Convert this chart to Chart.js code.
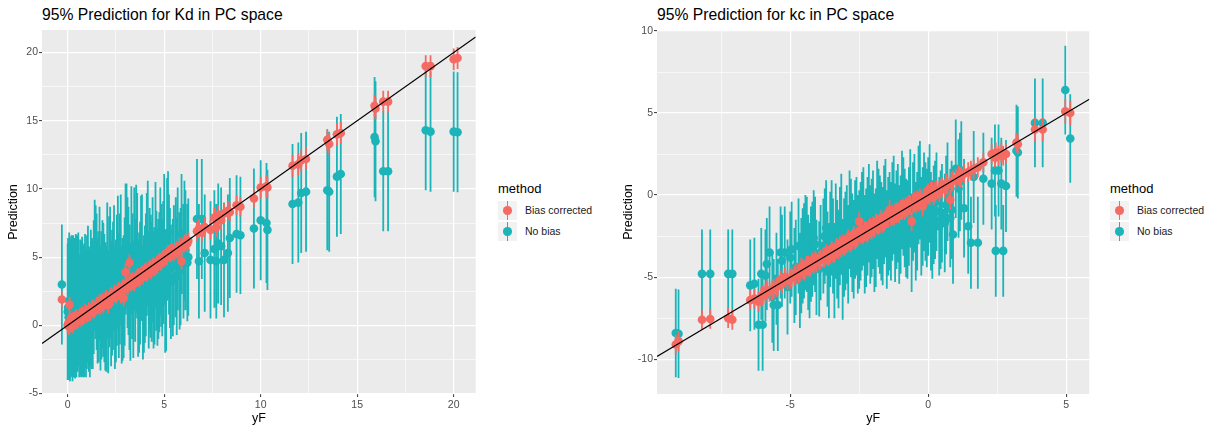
<!DOCTYPE html>
<html>
<head>
<meta charset="utf-8">
<script src="https://cdn.jsdelivr.net/npm/chart.js@4.4.1/dist/chart.umd.min.js"></script>
<style>
  body { margin: 0; width: 1209px; height: 428px; position: relative; background: #fff; overflow: hidden;
         font-family: "Liberation Sans", Arial, sans-serif; }
  canvas { position: absolute; top: 0; }
  .plot-title { position: absolute; top: 6px; font-size: 15.7px; line-height: 18px; color: #000; white-space: nowrap; }
  .legend { position: absolute; top: 181px; width: 110px; }
  .legend-title { font-size: 13px; line-height: 16px; color: #000; margin-left: 1px; }
  .legend-row { position: relative; height: 21px; }
  .legend-key { position: absolute; left: 1px; top: 4px; width: 19px; height: 18.5px; background: #F2F2F2; }
  .legend-key .bar { position: absolute; left: 8.6px; top: 0; width: 1.8px; height: 100%; }
  .legend-key .dot { position: absolute; left: 5.3px; top: 5px; width: 8.5px; height: 8.5px; border-radius: 50%; }
  .legend-label { position: absolute; left: 28px; top: 6px; font-size: 10.5px; line-height: 14px; color: #1a1a1a; white-space: nowrap; }
</style>
</head>
<body>
<div class="plot-title" style="left:42px">95% Prediction for Kd in PC space</div>
<div class="plot-title" style="left:657px">95% Prediction for kc in PC space</div>
<canvas id="kdChart" width="480" height="428" style="left:0px"></canvas>
<canvas id="kcChart" width="480" height="428" style="left:615px"></canvas>
<div class="legend" id="kdLegend" style="left:497px"></div>
<div class="legend" id="kcLegend" style="left:1109px"></div>

<script>
// ---- Kd panel data (yF, prediction, half-width of the 95% interval) ----
const kdYF = [
  -0.3, 0.0, 0.05, 0.1, 0.15, 0.2, 0.3, 0.35, 0.45, 0.5,
  0.6, 0.7, 0.75, 0.85, 0.95, 1.0, 1.1, 1.2, 1.3, 1.4,
  1.5, 1.55, 1.65, 1.75, 1.85, 1.95, 2.05, 2.1, 2.2, 2.3,
  2.4, 2.5, 2.6, 2.7, 2.8, 2.9, 3.0, 3.1, 3.2, 3.3,
  3.4, 3.5, 3.6, 3.7, 3.8, 3.9, 4.0, 4.1, 4.2, 4.3,
  4.4, 4.5, 4.6, 4.7, 4.8, 4.9, 5.0, 5.05, 5.1, 5.2,
  5.3, 5.45, 5.6, 5.8, 5.9, 6.0, 6.1, 6.2, 6.7, 6.8,
  6.95, 7.1, 7.4, 7.6, 7.7, 7.8, 7.95, 8.1, 8.3, 8.4,
  8.75, 8.95, 9.65, 10.0, 10.3, 10.35, 11.65, 11.95, 12.1, 12.35,
  13.45, 13.55, 13.95, 14.15, 15.9, 15.95, 16.35, 16.6, 18.55, 18.8,
  20.0, 20.2,
  0.02, 0.08, 0.12, 0.18, 0.25, 0.28, 0.38, 0.42, 0.55, 0.65,
  0.8, 0.9, 1.05, 1.15, 1.25, 1.35, 1.45, 1.6, 1.7, 1.8,
  1.9, 2.0, 2.15, 2.25, 2.35, 2.45, 2.55, 2.65, 2.75, 2.85,
  2.95, 3.05, 3.15, 3.25, 3.35, 3.45, 3.55, 3.65, 3.75, 3.85,
  3.95, 4.05, 4.15, 4.25, 4.35, 4.45, 4.55, 4.65, 4.75, 4.85,
  4.95, 5.15, 5.25, 5.35, 5.5, 5.65, 5.7, 5.85, 6.05, 6.25
];
const kdBiasPred = [
  1.9, 0.0, 0.2, 1.5, 0.1, 0.3, 0.2, 0.4, 0.5, 0.3,
  0.6, 0.5, 0.8, 0.7, 0.9, 0.8, 1.1, 1.0, 1.3, 1.2,
  1.5, 1.4, 1.7, 1.6, 1.5, 1.9, 1.8, 1.5, 2.1, 2.0,
  2.3, 2.2, 2.5, 2.4, 2.6, 2.0, 3.9, 2.8, 4.6, 3.1,
  3.2, 3.3, 3.5, 3.4, 3.7, 3.6, 3.9, 3.8, 4.1, 4.0,
  4.3, 4.2, 4.5, 4.6, 4.7, 4.8, 4.9, 5.0, 5.1, 5.3,
  5.2, 5.4, 5.5, 5.6, 4.7, 5.9, 6.1, 6.0, 6.9, 7.1,
  6.8, 7.2, 7.0, 7.9, 7.2, 8.1, 7.7, 8.2, 8.4, 8.3,
  8.8, 8.7, 9.3, 10.1, 10.2, 10.1, 11.7, 11.8, 12.1, 12.2,
  13.6, 13.3, 14.0, 14.1, 16.1, 15.9, 16.4, 16.4, 19.0, 19.0,
  19.5, 19.6,
  0.1, -0.1, 0.3, 0.2, 0.0, 0.4, 0.3, 0.6, 0.4, 0.7,
  0.6, 1.0, 0.9, 0.9, 1.2, 1.1, 1.3, 1.5, 1.4, 1.8,
  1.7, 2.0, 1.9, 2.2, 2.1, 2.4, 2.3, 2.6, 2.2, 2.8,
  2.7, 3.0, 3.0, 3.2, 3.3, 3.1, 3.4, 3.6, 3.5, 3.8,
  3.8, 4.0, 3.9, 4.2, 4.1, 4.4, 4.3, 4.4, 4.7, 4.6,
  4.9, 5.0, 5.3, 5.4, 5.3, 5.6, 5.5, 5.8, 6.0, 6.2
];
const kdBiasHalf = [
  0.6, 0.6, 0.6, 0.6, 0.6, 0.6, 0.6, 0.6, 0.6, 0.6,
  0.6, 0.6, 0.6, 0.6, 0.6, 0.6, 0.6, 0.6, 0.6, 0.6,
  0.6, 0.6, 0.6, 0.6, 0.6, 0.6, 0.6, 0.6, 0.6, 0.6,
  0.6, 0.6, 0.6, 0.6, 0.6, 0.6, 0.6, 0.6, 0.6, 0.6,
  0.6, 0.6, 0.6, 0.6, 0.6, 0.6, 0.6, 0.6, 0.6, 0.6,
  0.6, 0.6, 0.6, 0.6, 0.6, 0.6, 0.6, 0.6, 0.6, 0.6,
  0.6, 0.6, 0.6, 0.6, 0.6, 0.6, 0.6, 0.6, 0.7, 0.7,
  0.7, 0.7, 0.7, 0.7, 0.7, 0.7, 0.7, 0.7, 0.7, 0.7,
  0.7, 0.7, 0.7, 0.8, 0.8, 0.8, 0.8, 0.8, 0.8, 0.8,
  0.8, 0.8, 0.8, 0.8, 0.8, 0.8, 0.8, 0.8, 0.8, 0.8,
  0.8, 0.8,
  0.6, 0.6, 0.6, 0.6, 0.6, 0.6, 0.6, 0.6, 0.6, 0.6,
  0.6, 0.6, 0.6, 0.6, 0.6, 0.6, 0.6, 0.6, 0.6, 0.6,
  0.6, 0.6, 0.6, 0.6, 0.6, 0.6, 0.6, 0.6, 0.6, 0.6,
  0.6, 0.6, 0.6, 0.6, 0.6, 0.6, 0.6, 0.6, 0.6, 0.6,
  0.6, 0.6, 0.6, 0.6, 0.6, 0.6, 0.6, 0.6, 0.6, 0.6,
  0.6, 0.6, 0.6, 0.6, 0.6, 0.6, 0.6, 0.6, 0.6, 0.6
];
const kdNoBiasPred = [
  3.0, 1.0, 0.6, 0.9, 1.2, 1.5, 0.8, 1.3, 1.0, 1.6,
  0.7, 1.2, 1.4, 1.1, 0.9, 1.7, 1.2, 2.0, 1.5, 4.4,
  3.2, 1.8, 3.8, 2.2, 2.6, 1.4, 4.0, 1.0, 3.9, 2.4,
  4.2, 1.8, 4.6, 3.4, 1.5, 2.1, 5.6, 4.6, 2.8, 5.5,
  1.9, 3.3, 5.1, 2.4, 4.9, 1.7, 3.0, 5.2, 2.6, 3.6,
  4.8, 2.9, 4.0, 3.4, 5.4, 3.5, 6.3, 2.2, 2.4, 6.8,
  4.2, 3.5, 5.0, 4.0, 6.7, 4.7, 5.5, 4.6, 7.8, 4.7,
  7.8, 5.3, 4.8, 5.6, 4.7, 6.0, 5.8, 4.8, 5.3, 6.4,
  6.7, 6.6, 7.1, 7.7, 7.5, 7.0, 8.9, 9.0, 9.7, 9.8,
  9.9, 9.8, 10.9, 11.1, 13.8, 13.5, 11.3, 11.3, 14.3, 14.2,
  14.2, 14.15,
  1.3, 1.8, 1.1, 1.4, 0.9, 1.6, 1.2, 1.5, 1.9, 1.3,
  1.0, 1.8, 2.3, 0.9, 1.6, 2.8, 3.9, 2.1, 1.3, 3.0,
  2.0, 1.2, 3.2, 1.6, 2.9, 1.3, 3.3, 2.2, 4.8, 1.9,
  3.2, 5.8, 4.0, 1.7, 3.6, 5.6, 5.6, 2.0, 3.1, 5.0,
  2.3, 3.7, 6.0, 4.1, 3.2, 2.6, 5.9, 2.8, 3.9, 4.4,
  4.6, 6.3, 5.2, 3.2, 4.4, 3.6, 5.6, 4.3, 6.2, 5.0
];
const kdNoBiasHalf = [
  4.4, 5.0, 4.6, 4.9, 5.0, 5.1, 4.6, 5.1, 4.8, 5.0,
  4.5, 5.0, 5.1, 4.9, 4.7, 4.9, 4.6, 5.0, 4.7, 4.8,
  5.0, 4.6, 4.9, 4.7, 4.9, 4.7, 5.0, 4.5, 4.8, 4.6,
  4.6, 4.5, 4.9, 4.8, 4.3, 4.5, 4.8, 4.8, 4.6, 4.7,
  4.3, 4.5, 4.6, 4.4, 4.6, 4.2, 4.3, 4.5, 4.3, 4.5,
  4.6, 4.3, 4.4, 4.4, 4.7, 4.3, 4.8, 4.2, 4.3, 4.5,
  4.4, 4.3, 4.4, 4.3, 4.4, 4.2, 4.4, 4.3, 4.4, 4.2,
  4.4, 4.3, 4.3, 4.3, 4.2, 4.4, 4.3, 4.2, 4.3, 4.4,
  4.3, 4.3, 4.4, 4.4, 4.4, 4.4, 4.4, 4.4, 4.4, 4.4,
  4.4, 4.4, 4.4, 4.4, 4.4, 4.4, 4.4, 4.4, 4.4, 4.4,
  4.4, 4.4,
  5.1, 5.0, 5.2, 5.1, 5.0, 5.0, 5.1, 5.2, 4.9, 5.0,
  4.8, 4.9, 5.0, 4.7, 4.8, 4.9, 4.9, 4.8, 4.6, 4.7,
  4.7, 4.6, 4.8, 4.6, 4.7, 4.5, 4.8, 4.6, 4.8, 4.5,
  4.7, 4.6, 4.7, 4.3, 4.6, 4.5, 4.7, 4.3, 4.5, 4.6,
  4.3, 4.5, 4.6, 4.5, 4.4, 4.3, 4.6, 4.3, 4.4, 4.5,
  4.5, 4.5, 4.4, 4.2, 4.4, 4.3, 4.5, 4.3, 4.4, 4.3
];
const kdXRange = [-1.33, 21.14];
const kdYRange = [-5.03, 21.65];
const kdXTicks = [0, 2.5, 5, 7.5, 10, 12.5, 15, 17.5, 20];
const kdYTicks = [-5, -2.5, 0, 2.5, 5, 7.5, 10, 12.5, 15, 17.5, 20];

// ---- kc panel data ----
const kcYF = [
  -9.15, -9.05, -8.2, -7.9, -7.25, -7.1, -6.45, -6.3, -6.15, -6.05,
  -6.0, -5.85, -5.75, -5.6, -5.45, -5.35, -5.2, -5.0, -4.85, -4.7,
  -4.6, -4.5, -4.4, -4.3, -4.2, -4.1, -3.95, -3.8, -3.7, -3.6,
  -3.5, -3.4, -3.3, -3.2, -3.1, -3.0, -2.9, -2.8, -2.7, -2.6,
  -2.5, -2.4, -2.3, -2.2, -2.1, -2.0, -1.9, -1.8, -1.7, -1.6,
  -1.5, -1.4, -1.3, -1.2, -1.1, -1.0, -0.9, -0.8, -0.7, -0.6,
  -0.5, -0.4, -0.3, -0.2, -0.1, 0.0, 0.1, 0.2, 0.3, 0.4,
  0.5, 0.6, 0.7, 0.8, 0.9, 1.0, 1.1, 1.2, 1.3, 1.45,
  1.55, 1.65, 1.8, 2.0, 2.3, 2.42, 2.45, 2.55, 2.65, 2.72,
  2.82, 3.2, 3.25, 3.87, 4.15, 4.97, 5.15,
  -5.9, -5.65, -5.5, -5.3, -5.1, -4.95, -4.8, -4.65, -4.55, -4.45,
  -4.35, -4.25, -4.15, -4.05, -3.9, -3.75, -3.65, -3.55, -3.45, -3.35,
  -3.25, -3.15, -3.05, -2.95, -2.85, -2.75, -2.65, -2.55, -2.45, -2.35,
  -2.25, -2.15, -2.05, -1.95, -1.85, -1.75, -1.65, -1.55, -1.45, -1.35,
  -1.25, -1.15, -1.05, -0.95, -0.85, -0.75, -0.65, -0.55, -0.45, -0.35,
  -0.25, -0.15, -0.05, 0.05, 0.15, 0.25, 0.45, 0.65, 0.85, 1.15
];
const kcBiasPred = [
  -9.1, -8.9, -7.6, -7.55, -7.5, -7.6, -6.4, -6.3, -6.5, -6.2,
  -6.1, -5.8, -5.9, -5.7, -5.5, -5.2, -5.0, -5.1, -4.9, -4.8,
  -4.4, -4.6, -4.3, -4.4, -4.1, -4.0, -4.0, -3.8, -3.6, -3.7,
  -3.4, -3.5, -3.2, -3.1, -3.0, -3.0, -2.7, -2.8, -2.5, -2.6,
  -1.6, -2.3, -2.2, -2.3, -2.0, -1.9, -1.7, -1.8, -1.5, -1.6,
  -1.4, -0.9, -1.2, -1.1, -1.0, -0.9, -0.8, -0.7, -0.6, -1.6,
  -0.4, -0.3, -0.2, -0.7, -0.1, 0.1, 0.2, 0.0, 0.3, 0.2,
  0.5, 0.4, 0.6, -0.3, 0.9, 1.0, 1.2, 1.1, 1.3, 1.4,
  1.5, 1.6, 1.7, 2.0, 2.5, 2.3, 2.6, 2.4, 2.6, 2.4,
  2.5, 3.2, 3.1, 4.0, 4.0, 5.1, 5.0,
  -6.0, -5.8, -5.6, -5.4, -5.2, -5.0, -4.8, -4.7, -4.5, -4.5,
  -4.3, -4.3, -4.2, -4.1, -3.9, -3.8, -3.7, -3.6, -3.5, -3.3,
  -3.3, -3.2, -3.1, -2.9, -2.9, -2.7, -2.7, -2.5, -2.4, -2.4,
  -2.2, -2.1, -2.1, -2.0, -1.8, -1.7, -1.7, -1.5, -1.4, -1.3,
  -1.3, -1.1, -1.1, -0.9, -0.9, -0.8, -0.6, -0.5, -0.5, -0.4,
  -0.3, -0.2, 0.0, 0.0, 0.2, 0.2, 0.4, 0.7, 0.8, 1.1
];
const kcBiasHalf = [
  0.6, 0.6, 0.6, 0.6, 0.6, 0.6, 0.6, 0.6, 0.6, 0.6,
  0.6, 0.6, 0.6, 0.6, 0.6, 0.6, 0.6, 0.6, 0.6, 0.6,
  0.6, 0.6, 0.6, 0.6, 0.6, 0.6, 0.6, 0.6, 0.6, 0.6,
  0.6, 0.6, 0.6, 0.6, 0.6, 0.6, 0.6, 0.6, 0.6, 0.6,
  0.6, 0.6, 0.6, 0.6, 0.6, 0.6, 0.6, 0.6, 0.6, 0.6,
  0.6, 0.6, 0.6, 0.6, 0.6, 0.6, 0.6, 0.6, 0.6, 0.6,
  0.6, 0.6, 0.6, 0.6, 0.6, 0.6, 0.6, 0.6, 0.6, 0.6,
  0.6, 0.6, 0.6, 0.6, 0.6, 0.6, 0.6, 0.6, 0.6, 0.6,
  0.6, 0.6, 0.6, 0.6, 0.6, 0.6, 0.6, 0.6, 0.6, 0.6,
  0.6, 0.6, 0.6, 0.7, 0.7, 0.75, 0.75,
  0.6, 0.6, 0.6, 0.6, 0.6, 0.6, 0.6, 0.6, 0.6, 0.6,
  0.6, 0.6, 0.6, 0.6, 0.6, 0.6, 0.6, 0.6, 0.6, 0.6,
  0.6, 0.6, 0.6, 0.6, 0.6, 0.6, 0.6, 0.6, 0.6, 0.6,
  0.6, 0.6, 0.6, 0.6, 0.6, 0.6, 0.6, 0.6, 0.6, 0.6,
  0.6, 0.6, 0.6, 0.6, 0.6, 0.6, 0.6, 0.6, 0.6, 0.6,
  0.6, 0.6, 0.6, 0.6, 0.6, 0.6, 0.6, 0.6, 0.6, 0.6
];
const kcNoBiasPred = [
  -8.4, -8.45, -4.8, -4.8, -4.8, -4.8, -5.5, -5.4, -7.9, -4.8,
  -7.9, -4.2, -3.5, -6.7, -6.7, -3.5, -3.5, -3.8, -4.9, -3.1,
  -4.3, -3.4, -3.0, -4.6, -3.3, -3.0, -4.5, -3.1, -2.0, -4.6,
  -2.0, -4.6, -3.3, -2.5, -4.6, -2.8, -3.6, -2.0, -3.3, -1.9,
  -2.7, -1.6, -3.0, -1.9, -2.4, -1.5, -2.6, -1.4, -2.2, -1.2,
  -2.7, -1.6, -1.0, -2.3, -1.1, -1.8, -0.7, -2.0, -1.3, -2.9,
  -0.5, -1.6, 0.3, -1.3, -1.0, -0.7, -1.6, -1.2, -0.4, -1.9,
  -1.1, -1.7, 0.2, -1.4, -2.4, 1.6, 0.4, 1.5, -0.8, -1.9,
  -2.9, 1.1, -2.9, 1.0, 0.7, 1.5, -3.4, 1.5, 0.7, -3.4,
  0.55, 2.7, 2.6, 4.4, 4.4, 6.4, 3.45,
  -4.9, -6.2, -5.1, -4.0, -5.6, -3.3, -4.4, -5.2, -3.7, -2.9,
  -4.1, -3.6, -2.6, -4.4, -3.5, -2.5, -3.9, -2.7, -3.1, -2.2,
  -3.9, -1.7, -3.2, -2.4, -1.5, -2.9, -2.1, -3.0, -2.2, -1.3,
  -2.6, -1.1, -2.0, -2.9, -0.9, -1.8, -2.5, -0.8, -1.9, -2.2,
  -0.6, -1.5, -2.4, -0.3, -1.4, -2.1, -0.2, -1.0, -2.2, 0.0,
  -1.9, -0.4, -1.4, 0.1, -2.1, -0.9, -1.5, -0.6, -0.9, 0.8
];
const kcNoBiasHalf = [
  2.7, 2.7, 2.7, 2.7, 2.7, 2.7, 2.8, 2.8, 2.8, 2.8,
  2.8, 2.8, 2.8, 2.8, 2.8, 2.8, 2.8, 2.8, 2.9, 2.9,
  2.9, 2.9, 2.9, 2.9, 2.9, 2.9, 2.9, 2.9, 2.9, 2.9,
  2.9, 2.9, 3.0, 3.0, 3.0, 3.0, 3.0, 3.0, 3.0, 3.0,
  3.0, 3.0, 3.0, 3.0, 3.0, 3.0, 3.0, 3.0, 3.0, 3.0,
  3.0, 3.0, 3.0, 3.0, 3.0, 3.0, 3.0, 3.0, 3.0, 3.0,
  3.0, 3.0, 3.0, 3.0, 3.0, 3.0, 3.0, 3.0, 3.0, 3.0,
  3.0, 3.0, 3.0, 3.0, 3.0, 3.0, 3.0, 3.0, 3.0, 2.9,
  2.8, 2.8, 2.8, 2.8, 2.8, 2.8, 2.8, 2.8, 2.8, 2.8,
  2.8, 2.8, 2.8, 2.7, 2.7, 2.7, 2.7,
  2.8, 2.8, 2.8, 2.8, 2.9, 2.9, 2.9, 2.9, 2.9, 2.9,
  2.9, 2.9, 2.9, 2.9, 2.9, 2.9, 2.9, 2.9, 2.9, 2.9,
  3.0, 3.0, 3.0, 3.0, 3.0, 3.0, 3.0, 3.0, 3.0, 3.0,
  3.0, 3.0, 3.0, 3.0, 3.0, 3.0, 3.0, 3.0, 3.0, 3.0,
  3.0, 3.0, 3.0, 3.0, 3.0, 3.0, 3.0, 3.0, 3.0, 3.0,
  3.0, 3.0, 3.0, 3.0, 3.0, 3.0, 3.0, 3.0, 3.0, 3.0
];
const kcXRange = [-9.83, 5.84];
const kcYRange = [-12.12, 10.06];
const kcXTicks = [-7.5, -5, -2.5, 0, 2.5, 5];
const kcYTicks = [-10, -7.5, -5, -2.5, 0, 2.5, 5, 7.5, 10];

const methods = ["Bias corrected", "No bias"];
const methodColors = ["#F56A62", "#1AB4B9"];
const FONT = "'Liberation Sans', Arial, sans-serif";

const isMajor = v => v % 5 === 0;

// grey panel behind the grid
const panelBg = {
  id: "panelBg",
  beforeDraw(chart) {
    const { ctx, chartArea: a } = chart;
    ctx.save();
    ctx.fillStyle = "#EBEBEB";
    ctx.fillRect(a.left, a.top, a.right - a.left, a.bottom - a.top);
    ctx.restore();
  }
};

// vertical interval bars, drawn just before each dataset's points
const errorBars = {
  id: "errorBars",
  beforeDatasetDraw(chart, args) {
    const ds = chart.data.datasets[args.index];
    if (!ds.half) return;
    const { ctx, chartArea: a, scales } = chart;
    ctx.save();
    ctx.beginPath();
    ctx.rect(a.left, a.top, a.right - a.left, a.bottom - a.top);
    ctx.clip();
    ctx.strokeStyle = ds.backgroundColor;
    ctx.lineWidth = 1.8;
    ctx.beginPath();
    ds.data.forEach((p, i) => {
      const px = scales.x.getPixelForValue(p.x);
      ctx.moveTo(px, scales.y.getPixelForValue(p.y - ds.half[i]));
      ctx.lineTo(px, scales.y.getPixelForValue(p.y + ds.half[i]));
    });
    ctx.stroke();
    ctx.restore();
  }
};

function axisOptions(range, ticks, title, isX) {
  return {
    type: "linear",
    min: range[0],
    max: range[1],
    afterBuildTicks: s => { s.ticks = ticks.map(v => ({ value: v })); },
    afterFit: s => { if (isX) s.height = 34; else s.width = 42; },
    border: { display: false },
    grid: {
      color: "#FFFFFF",
      lineWidth: c => (c.tick && isMajor(c.tick.value) ? 1.2 : 0.6),
      drawTicks: true,
      tickLength: 3,
      tickWidth: 1,
      tickColor: c => (c.tick && isMajor(c.tick.value) ? "#333333" : "rgba(0,0,0,0)")
    },
    ticks: {
      autoSkip: false,
      maxRotation: 0,
      padding: isX ? 2 : 1,
      color: "#4D4D4D",
      font: { family: FONT, size: 10.5 },
      callback: v => (isMajor(v) ? String(v) : "")
    },
    title: {
      display: true,
      text: title,
      color: "#000000",
      font: { family: FONT, size: 12.5 },
      padding: isX ? { top: 0, bottom: 2 } : { top: 6, bottom: 0 }
    }
  };
}

function makePanel(canvasId, yF, biasPred, biasHalf, noBiasPred, noBiasHalf, xRange, yRange, xTicks, yTicks, padRight) {
  const toPoints = pred => yF.map((x, i) => ({ x: x, y: pred[i] }));
  const ctx = document.getElementById(canvasId).getContext("2d");
  new Chart(ctx, {
    type: "scatter",
    data: {
      datasets: [
        {
          // y = x reference line
          type: "line",
          data: [{ x: xRange[0], y: xRange[0] }, { x: xRange[1], y: xRange[1] }],
          borderColor: "#000000",
          borderWidth: 1.1,
          pointRadius: 0,
          fill: false
        },
        {
          label: methods[0],
          data: toPoints(biasPred),
          half: biasHalf,
          backgroundColor: methodColors[0],
          pointRadius: 4.3,
          pointBorderWidth: 0
        },
        {
          label: methods[1],
          data: toPoints(noBiasPred),
          half: noBiasHalf,
          backgroundColor: methodColors[1],
          pointRadius: 4.3,
          pointBorderWidth: 0
        }
      ]
    },
    options: {
      responsive: false,
      animation: false,
      devicePixelRatio: 1,
      events: [],
      layout: { padding: { top: 30, right: padRight, bottom: 0, left: 0 } },
      plugins: { legend: { display: false }, tooltip: { enabled: false } },
      scales: {
        x: axisOptions(xRange, xTicks, "yF", true),
        y: axisOptions(yRange, yTicks, "Prediction", false)
      }
    },
    plugins: [panelBg, errorBars]
  });
}

function buildLegend(id) {
  const box = document.getElementById(id);
  box.innerHTML = '<div class="legend-title">method</div>';
  methods.forEach((m, i) => {
    const row = document.createElement("div");
    row.className = "legend-row";
    row.innerHTML = `
      <div class="legend-key">
        <div class="bar" style="background:${methodColors[i]}"></div>
        <div class="dot" style="background:${methodColors[i]}"></div>
      </div>
      <div class="legend-label">${m}</div>`;
    box.appendChild(row);
  });
}

makePanel("kdChart", kdYF, kdBiasPred, kdBiasHalf, kdNoBiasPred, kdNoBiasHalf, kdXRange, kdYRange, kdXTicks, kdYTicks, 3);
makePanel("kcChart", kcYF, kcBiasPred, kcBiasHalf, kcNoBiasPred, kcNoBiasHalf, kcXRange, kcYRange, kcXTicks, kcYTicks, 5.7);
buildLegend("kdLegend");
buildLegend("kcLegend");
</script>
</body>
</html>
